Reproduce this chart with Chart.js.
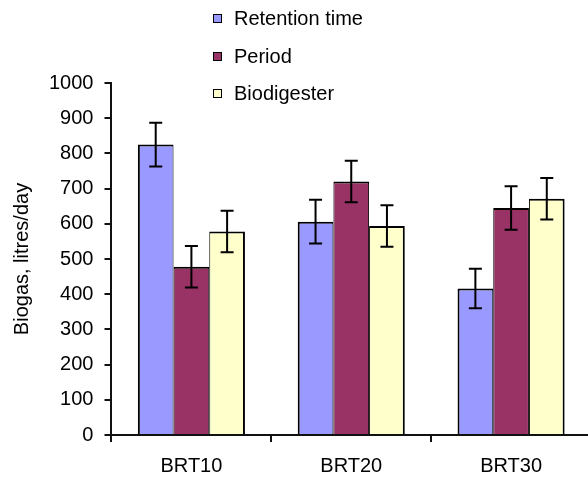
<!DOCTYPE html>
<html>
<head>
<meta charset="utf-8">
<script src="https://cdn.jsdelivr.net/npm/chart.js@4"></script>
<style>
  html, body { margin: 0; padding: 0; background: #fff; overflow: hidden; }
  #wrap { position: relative; width: 592px; height: 486px; }
  #legend { position: absolute; left: 213px; top: 0; font-family: 'Liberation Sans', Arial, sans-serif; font-size: 20px; color: #000; }
  .item { position: absolute; left: 0; white-space: nowrap; display: flex; align-items: center; height: 24px; }
  .box { width: 7px; height: 7px; border: 1.5px solid #000; margin-right: 12px; }
</style>
</head>
<body>
<div id="wrap">
  <canvas id="grafico"></canvas>
  <div id="legend"></div>
</div>
<script>
const categorias = ['BRT10', 'BRT20', 'BRT30'];
const series = ['Retention time', 'Period', 'Biodigester'];
const retencao = [825, 606, 416];
const periodo = [478, 720, 645];
const biodigestor = [578, 594, 671];
const erroRetencao = [62, 62, 56];
const erroPeriodo = [59, 59, 62];
const erroBiodigestor = [59, 59, 59];
const cores = ['#9999FF', '#993366', '#FFFFCC'];

const fonte = "'Liberation Sans', Arial, sans-serif";

// barras de erro desenhadas por cima das barras
const barrasErro = {
  id: 'barrasErro',
  afterDatasetsDraw(chart) {
    const c = chart.ctx;
    const y = chart.scales.y;
    chart.data.datasets.forEach((ds, i) => {
      const meta = chart.getDatasetMeta(i);
      meta.data.forEach((bar, j) => {
        const v = ds.data[j];
        const e = ds.erros[j];
        const yTop = y.getPixelForValue(v + e);
        const yBot = y.getPixelForValue(v - e);
        c.save();
        c.strokeStyle = '#000';
        c.lineWidth = 2;
        c.beginPath();
        c.moveTo(bar.x, yTop);
        c.lineTo(bar.x, yBot);
        c.moveTo(bar.x - 6.5, yTop);
        c.lineTo(bar.x + 6.5, yTop);
        c.moveTo(bar.x - 6.5, yBot);
        c.lineTo(bar.x + 6.5, yBot);
        c.stroke();
        c.restore();
      });
    });
  }
};

const ctx = document.getElementById('grafico');

const grafico = new Chart(ctx, {
  type: 'bar',
  data: {
    labels: categorias,
    datasets: [
      { label: series[0], data: retencao, erros: erroRetencao, backgroundColor: cores[0],
        borderColor: '#000', borderWidth: { left: 2, right: 1, top: 2, bottom: 0 } },
      { label: series[1], data: periodo, erros: erroPeriodo, backgroundColor: cores[1],
        borderColor: '#000', borderWidth: { left: 1, right: 1, top: 2, bottom: 0 } },
      { label: series[2], data: biodigestor, erros: erroBiodigestor, backgroundColor: cores[2],
        borderColor: '#000', borderWidth: { left: 1, right: 2, top: 2, bottom: 0 } }
    ]
  },
  options: {
    responsive: true,
    maintainAspectRatio: false,
    animation: false,
    categoryPercentage: 0.67,
    barPercentage: 1,
    layout: { padding: { top: 83, right: 1, bottom: -4, left: 0 } },
    plugins: {
      legend: { display: false },
      tooltip: { enabled: false }
    },
    scales: {
      x: {
        grid: { drawOnChartArea: false, drawTicks: true, tickLength: 7, color: '#111', lineWidth: 2, offset: true },
        border: { color: '#111', width: 2 },
        ticks: { color: '#000', font: { family: fonte, size: 20 }, padding: 12 }
      },
      y: {
        min: 0,
        max: 1000,
        grid: { drawOnChartArea: false, drawTicks: true, tickLength: 7, color: '#111', lineWidth: 2 },
        border: { color: '#111', width: 2 },
        ticks: { stepSize: 100, color: '#000', font: { family: fonte, size: 20 }, padding: 11,
          callback: (v) => String(v) },
        title: {
          display: true,
          text: 'Biogas, litres/day',
          color: '#000',
          font: { family: fonte, size: 20 },
          padding: { top: 10, bottom: 4 }
        }
      }
    }
  },
  plugins: [barrasErro]
});

// legenda em HTML, empilhada
const legendaDiv = document.getElementById('legend');
grafico.data.datasets.forEach((ds, i) => {
  const item = document.createElement('div');
  item.className = 'item';
  item.style.top = (6.5 + i * 37.5) + 'px';
  const box = document.createElement('span');
  box.className = 'box';
  box.style.background = ds.backgroundColor;
  const txt = document.createElement('span');
  txt.textContent = ds.label;
  item.appendChild(box);
  item.appendChild(txt);
  legendaDiv.appendChild(item);
});
</script>
</body>
</html>
